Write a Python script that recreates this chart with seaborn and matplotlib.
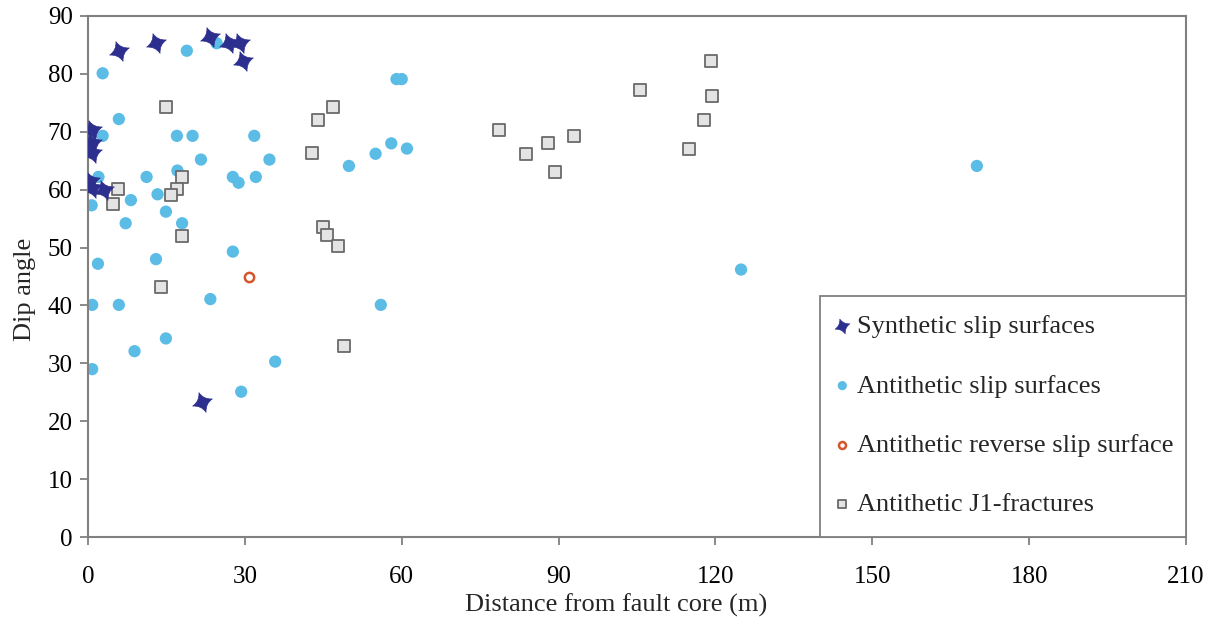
import numpy as np
import pandas as pd
import matplotlib
matplotlib.use("Agg")
import matplotlib.pyplot as plt
import seaborn as sns
from matplotlib.path import Path
from matplotlib.patches import Rectangle

# ---- data (distance from fault core [m], dip angle [deg]) ----
syn_x = [0.7, 0.8, 0.7, 0.3, 0.8, 3.0, 6.0, 13.0, 23.4, 26.9, 29.0, 29.6, 21.8]
syn_y = [70.3, 68.0, 66.3, 61.5, 60.3, 60.0, 84.0, 85.3, 86.3, 85.4, 85.4, 82.3, 23.3]

anti_x = [18.9, 24.6, 2.8, 5.9, 2.8, 17.0, 20.0, 31.8, 21.6, 34.7, 2.0, 11.2, 17.1,
          27.7, 28.8, 32.1, 0.7, 8.2, 13.3, 14.9, 7.2, 18.0, 27.7, 1.9, 13.0, 0.8,
          5.9, 23.4, 14.9, 8.9, 0.8, 35.8, 29.3, 59.0, 60.0, 49.9, 55.0, 58.0, 61.0,
          56.0, 124.9, 170.0]
anti_y = [84.0, 85.3, 80.1, 72.2, 69.3, 69.3, 69.3, 69.3, 65.2, 65.2, 62.2, 62.2, 63.3,
          62.2, 61.2, 62.2, 57.3, 58.2, 59.2, 56.2, 54.2, 54.2, 49.3, 47.2, 48.0, 40.1,
          40.1, 41.1, 34.3, 32.1, 29.0, 30.3, 25.1, 79.1, 79.1, 64.1, 66.2, 68.0, 67.1,
          40.1, 46.2, 64.1]

rev_x = [30.8]
rev_y = [45.0]

j1_x = [14.9, 17.9, 17.0, 15.8, 5.8, 4.8, 17.9, 14.0, 46.8, 43.9, 42.9, 78.7, 87.9,
        92.9, 83.8, 89.3, 44.9, 45.8, 47.9, 48.9, 105.5, 119.2, 119.3, 117.9, 114.9]
j1_y = [74.2, 62.2, 60.1, 59.1, 60.1, 57.5, 52.0, 43.1, 74.3, 72.0, 66.3, 70.3, 68.1,
        69.3, 66.1, 63.1, 53.5, 52.2, 50.3, 33.0, 77.3, 82.3, 76.2, 72.0, 67.1]

labels = ["Synthetic slip surfaces", "Antithetic slip surfaces",
          "Antithetic reverse slip surface", "Antithetic J1-fractures"]
xticks = [0, 30, 60, 90, 120, 150, 180, 210]
yticks = [0, 10, 20, 30, 40, 50, 60, 70, 80, 90]


def star_marker(rot_deg=20, ctrl=0.3):
    verts, codes = [], []
    for k in range(4):
        a = np.deg2rad(rot_deg + 90 * k)
        b = np.deg2rad(rot_deg + 90 * k + 45)
        tip = (np.cos(a), np.sin(a))
        c = (ctrl * np.cos(b), ctrl * np.sin(b))
        verts.append(tip)
        codes.append(Path.MOVETO if k == 0 else Path.CURVE3)
        verts.append(c); codes.append(Path.CURVE3)
    a0 = np.deg2rad(rot_deg)
    verts.append((np.cos(a0), np.sin(a0))); codes.append(Path.CURVE3)
    verts.append((0, 0)); codes.append(Path.CLOSEPOLY)
    return Path(verts, codes)


sns.set_style("ticks")
plt.rcParams['font.family'] = ['Liberation Serif', 'DejaVu Serif']

W, H = 1220, 623
fig = plt.figure(figsize=(12.2, 6.23), dpi=100)
ax = fig.add_axes([88 / W, 1 - 537 / H, 1098 / W, 521 / H])

sns.scatterplot(x=anti_x, y=anti_y, ax=ax, marker='o', s=78, color='#5bbce6',
                edgecolor='none', linewidth=0, label=labels[1], legend=False, zorder=2)
sns.scatterplot(x=rev_x, y=rev_y, ax=ax, marker='o', s=45, color='#d4562a',
                facecolor='white', edgecolor='#d4562a', linewidth=1.8,
                label=labels[2], legend=False, zorder=3)
sns.scatterplot(x=j1_x, y=j1_y, ax=ax, marker='s', s=68, color='#e4e4e4',
                facecolor='#e4e4e4', edgecolor='#6a6a6a', linewidth=1.3,
                label=labels[3], legend=False, zorder=3)
sns.scatterplot(x=syn_x, y=syn_y, ax=ax, marker=star_marker(), s=200, color='#2c2f8e',
                edgecolor='#2c2f8e', linewidth=0.5, label=labels[0], legend=False,
                zorder=4)

ax.set_xlim(0, 210)
ax.set_ylim(0, 90)
ax.set_xticks(xticks)
ax.set_yticks(yticks)
ax.tick_params(axis='both', direction='out', length=6, width=1.3, color='#808080',
               labelsize=18, labelcolor='black')
ax.tick_params(axis='x', pad=15)
ax.tick_params(axis='y', pad=5)
for sp in ax.spines.values():
    sp.set_visible(True)
    sp.set_color('#808080')
    sp.set_linewidth(1.5)

ax.set_xlabel("Distance from fault core (m)", fontsize=19)
ax.set_ylabel("Dip angle", fontsize=19)
ax.xaxis.set_label_coords((616 - 88) / 1098, -(605 - 537) / 521, transform=ax.transAxes)
ax.xaxis.label.set_va('center')
ax.yaxis.set_label_coords(-(88 - 25) / 1098, (537 - 289) / 521, transform=ax.transAxes)
ax.yaxis.label.set_va('center')

# legend box (drawn to match the reference frame)
bx0, bx1, by0, by1 = 820, 1186, 296, 537
box = Rectangle(((bx0 - 88) / 1098, 0), (bx1 - bx0) / 1098, (by1 - by0) / 521,
                transform=ax.transAxes, facecolor='white', edgecolor='#808080',
                linewidth=1.3, zorder=5, clip_on=False)
ax.add_patch(box)

h, l = ax.get_legend_handles_labels()
order = [l.index(t) for t in labels]
cx = ((836 + 1173) / 2 - 88) / 1098
cy = (537 - (327 + 504) / 2) / 521
leg = ax.legend([h[i] for i in order], [l[i] for i in order], loc='center',
                bbox_to_anchor=(cx, cy), borderaxespad=0, borderpad=0, frameon=False,
                fontsize=19, markerscale=0.75, handlelength=0.55, handletextpad=0.3,
                labelspacing=1.36)
leg.set_zorder(6)

fig.savefig("out.png", dpi=100)
